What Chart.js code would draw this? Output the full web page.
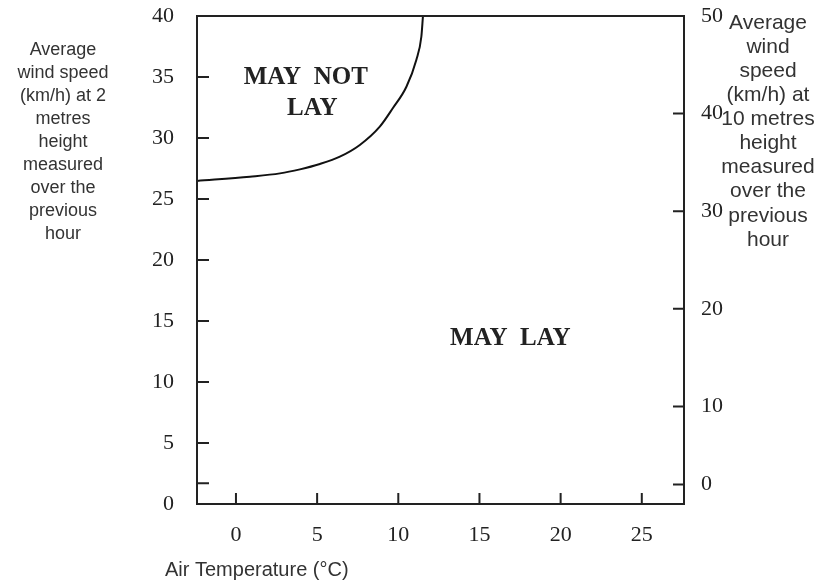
<!DOCTYPE html>
<html>
<head>
<meta charset="utf-8">
<script src="https://cdn.jsdelivr.net/npm/chart.js@4/dist/chart.umd.min.js"></script>
<style>
    html, body { margin: 0; padding: 0; background: #fff; }
    #wrap { width: 822px; height: 587px; position: relative; }
</style>
</head>
<body>
<div id="wrap"><canvas id="chart"></canvas></div>
<script>
// Boundary curve (air temp °C, wind speed km/h at 2 m)
const curveTemp = [-2.4, 0.86, 2.71, 3.94, 5.17, 6.4, 7.63, 8.86, 9.67, 10.5, 11.11, 11.42, 11.52];
const curveWind = [26.48, 26.83, 27.1, 27.43, 27.87, 28.47, 29.43, 30.93, 32.46, 34.2, 36.4, 38.3, 40.0];

// Axes
const tempTicks = [0, 5, 10, 15, 20, 25];
const wind2Ticks = [0, 5, 10, 15, 20, 25, 30, 35, 40];
const wind2Marks = [1.7, 5, 10, 15, 20, 25, 30, 35];
const wind10Ticks = [2, 10, 20, 30, 40, 50];
const wind10Labels = ['0', '10', '20', '30', '40', '50'];

// Titles and region labels
const leftTitle = ['Average', 'wind speed', '(km/h) at 2', 'metres', 'height', 'measured', 'over the', 'previous', 'hour'];
const rightTitle = ['Average', 'wind', 'speed', '(km/h) at', '10 metres', 'height', 'measured', 'over the', 'previous', 'hour'];
const bottomTitle = 'Air Temperature (°C)';
const regionLabels = [
    { text: 'MAY  NOT', x: 4.3, y: 34.95 },
    { text: 'LAY', x: 4.7, y: 32.45 },
    { text: 'MAY  LAY', x: 16.9, y: 13.6 },
];

const INK = '#222';
const SERIF = '"Liberation Serif", "Times New Roman", serif';
const SANS = '"Liberation Sans", Arial, sans-serif';

function fixedTicks(values) {
    return scale => { scale.ticks = values.map(v => ({ value: v })); };
}

function fitVertical(width) {
    return scale => {
        scale.width = width;
        scale.paddingTop = 0;
        scale.paddingBottom = 0;
    };
}

const framePlugin = {
    id: 'frame',
    afterDraw(chart) {
        const { ctx, chartArea: a, scales } = chart;
        ctx.save();
        ctx.strokeStyle = INK;
        ctx.lineWidth = 2;
        ctx.strokeRect(a.left, a.top, a.right - a.left, a.bottom - a.top);

        // inward tick marks
        ctx.beginPath();
        tempTicks.forEach(v => {
            const px = scales.x.getPixelForValue(v);
            ctx.moveTo(px, a.bottom);
            ctx.lineTo(px, a.bottom - 11);
        });
        wind2Marks.forEach(v => {
            const py = scales.y.getPixelForValue(v);
            ctx.moveTo(a.left, py);
            ctx.lineTo(a.left + 12, py);
        });
        wind10Ticks.slice(0, -1).forEach(v => {
            const py = scales.y2.getPixelForValue(v);
            ctx.moveTo(a.right, py);
            ctx.lineTo(a.right - 11, py);
        });
        ctx.stroke();

        // region labels
        ctx.fillStyle = INK;
        ctx.font = 'bold 25px ' + SERIF;
        ctx.textAlign = 'center';
        ctx.textBaseline = 'middle';
        regionLabels.forEach(l => {
            ctx.fillText(l.text, scales.x.getPixelForValue(l.x), scales.y.getPixelForValue(l.y));
        });

        // axis titles
        ctx.fillStyle = '#333';
        ctx.font = '18px ' + SANS;
        leftTitle.forEach((line, i) => ctx.fillText(line, 63, 50 + i * 23));
        ctx.font = '21px ' + SANS;
        rightTitle.forEach((line, i) => ctx.fillText(line, 768, 23 + i * 24.1));
        ctx.font = '20px ' + SANS;
        ctx.textAlign = 'left';
        ctx.fillText(bottomTitle, 165, 570);
        ctx.restore();
    }
};

const ctx = document.getElementById('chart').getContext('2d');
new Chart(ctx, {
    type: 'line',
    data: {
        datasets: [{
            data: curveTemp.map((t, i) => ({ x: t, y: curveWind[i] })),
            borderColor: '#111',
            borderWidth: 2,
            pointRadius: 0,
            cubicInterpolationMode: 'monotone',
            fill: false,
        }],
    },
    options: {
        responsive: true,
        maintainAspectRatio: false,
        animation: false,
        layout: { padding: { top: 16, left: 0, right: 0, bottom: 0 } },
        plugins: {
            legend: { display: false },
            tooltip: { enabled: false },
        },
        scales: {
            x: {
                type: 'linear',
                min: -2.4,
                max: 27.6,
                afterBuildTicks: fixedTicks(tempTicks),
                afterFit: s => { s.height = 83; s.paddingLeft = 0; s.paddingRight = 0; },
                grid: { display: false },
                border: { display: false },
                ticks: {
                    color: INK,
                    padding: 10,
                    font: { family: SERIF, size: 22 },
                },
            },
            y: {
                type: 'linear',
                position: 'left',
                min: 0,
                max: 40,
                afterBuildTicks: fixedTicks(wind2Ticks),
                afterFit: fitVertical(197),
                grid: { display: false },
                border: { display: false },
                ticks: {
                    color: INK,
                    padding: 15,
                    font: { family: SERIF, size: 22 },
                },
            },
            y2: {
                type: 'linear',
                position: 'right',
                min: 0,
                max: 50,
                afterBuildTicks: fixedTicks(wind10Ticks),
                afterFit: fitVertical(138),
                grid: { display: false },
                border: { display: false },
                ticks: {
                    color: INK,
                    padding: 9,
                    font: { family: SERIF, size: 22 },
                    callback: (v) => wind10Labels[wind10Ticks.indexOf(v)],
                },
            },
        },
    },
    plugins: [framePlugin],
});
</script>
</body>
</html>
